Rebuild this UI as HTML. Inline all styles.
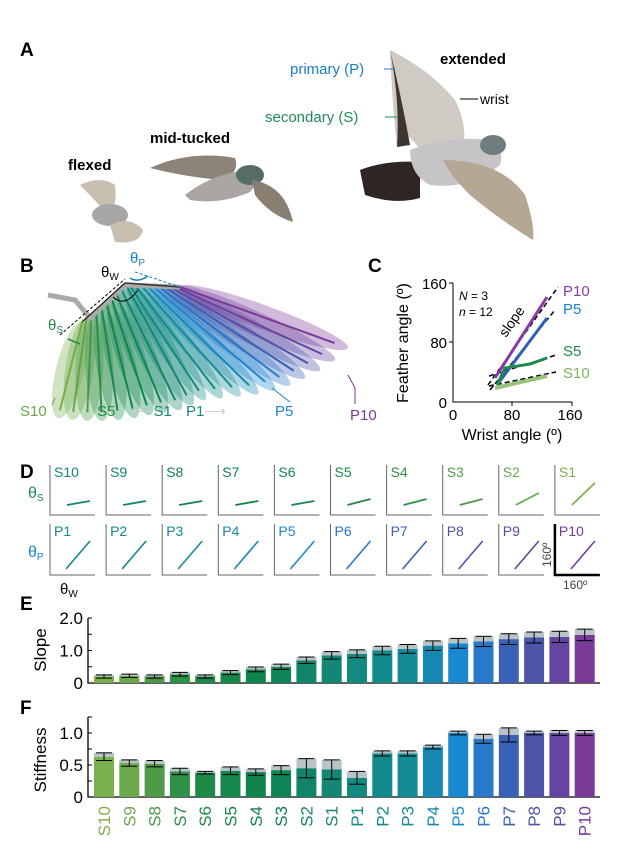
<!DOCTYPE html><html><head><meta charset="utf-8"><style>
body{margin:0;background:#fff;width:622px;height:845px;overflow:hidden;font-family:"Liberation Sans",sans-serif}
svg{display:block}
</style></head><body>
<svg id="s" width="622" height="845" viewBox="0 0 622 845" font-family="Liberation Sans, sans-serif">
<text x="20" y="56" font-size="19" font-weight="bold">A</text>
<text x="20" y="272" font-size="19" font-weight="bold">B</text>
<text x="368" y="272" font-size="19" font-weight="bold">C</text>
<text x="20" y="478" font-size="19" font-weight="bold">D</text>
<text x="20" y="610" font-size="19" font-weight="bold">E</text>
<text x="20" y="714" font-size="19" font-weight="bold">F</text>
<path d="M390,50 Q430,70 455,100 Q468,125 463,150 L420,150 Q400,120 397,147 Q392,100 390,50Z" fill="#cfcac4"/>
<path d="M390,50 Q400,100 397,147 L410,145 Q402,100 390,50Z" fill="#3e3530"/>
<path d="M360,170 Q385,160 420,162 L420,198 Q395,205 365,195Z" fill="#2e2622"/>
<path d="M410,150 Q450,135 490,140 Q505,150 500,165 Q470,190 430,185 Q410,175 410,150Z" fill="#c6c4c6"/>
<ellipse cx="493" cy="145" rx="13" ry="10" fill="#6f7d7e"/>
<path d="M443,160 Q500,160 525,195 Q535,225 533,240 Q500,220 470,195 Q450,175 443,160Z" fill="#b4a794"/>
<path d="M150,168 Q190,150 235,158 Q240,170 225,180 Q190,178 150,168Z" fill="#8e8378"/>
<path d="M185,195 Q210,175 245,170 Q262,180 250,192 Q220,205 190,200Z" fill="#a9a6a4"/>
<ellipse cx="250" cy="175" rx="14" ry="10" fill="#566d66"/>
<path d="M252,180 Q285,185 293,222 Q270,215 255,195Z" fill="#8b7f72"/>
<path d="M80,185 Q100,175 115,185 Q118,205 108,215 Q95,200 80,185Z" fill="#c9bfb0"/>
<ellipse cx="110" cy="215" rx="18" ry="11" fill="#a7a6a8"/>
<path d="M110,225 Q130,215 143,230 Q140,245 115,242Z" fill="#c9bfb0"/>
<text x="68" y="170" font-size="15" font-weight="bold">flexed</text>
<text x="150" y="143" font-size="15" font-weight="bold">mid-tucked</text>
<text x="440" y="64" font-size="15" font-weight="bold">extended</text>
<text x="290" y="74" font-size="15" fill="#1a7fc4">primary (P)</text>
<line x1="384" y1="69" x2="395" y2="69" stroke="#1a7fc4"/>
<text x="265" y="122" font-size="15" fill="#1f8a5a">secondary (S)</text>
<line x1="385" y1="117" x2="398" y2="117" stroke="#1f8a5a"/>
<text x="480" y="104" font-size="14">wrist</text>
<line x1="460" y1="99" x2="478" y2="99" stroke="#000"/>
<g id="wing"></g>
<path d="M48,295 L75,300 L90,318 L125,285 L180,287" stroke="#aaa" stroke-width="5" fill="none"/>
<line x1="60" y1="335" x2="125" y2="279" stroke="#000" stroke-dasharray="3,2"/>
<line x1="82" y1="322" x2="125" y2="283" stroke="#000"/>
<line x1="125" y1="283" x2="180" y2="287" stroke="#333" stroke-width="1.5"/>
<line x1="135" y1="272" x2="180" y2="287" stroke="#1a7fc4" stroke-dasharray="3,2"/>
<path d="M113,297 Q125,308 138,290" stroke="#000" fill="none"/>
<path d="M130,278 Q138,283 148,276" stroke="#1a7fc4" stroke-width="1.5" fill="none"/>
<text x="101" y="277" font-size="15">θ<tspan font-size="10" dy="3">W</tspan></text>
<text x="130" y="263" font-size="15" fill="#1a7fc4">θ<tspan font-size="10" dy="3">P</tspan></text>
<text x="48" y="330" font-size="15" fill="#1f8a4a">θ<tspan font-size="10" dy="3">S</tspan></text>
<line x1="68" y1="339" x2="80" y2="344" stroke="#1f8a4a" stroke-width="1.5"/>
<g font-size="15">
<text x="20" y="416" fill="#6aa84f">S10</text><line x1="52" y1="405" x2="55" y2="398" stroke="#6aa84f"/>
<text x="97" y="416" fill="#1f8a4a">S5</text>
<text x="132" y="416" fill="#128a6a"><tspan fill="#ccc">⟵</tspan>S1</text>
<text x="186" y="416" fill="#128a80">P1<tspan fill="#ccc">⟶</tspan></text>
<text x="275" y="416" fill="#1a86c8">P5</text><line x1="290" y1="402" x2="272" y2="388" stroke="#1a86c8"/>
<text x="350" y="420" fill="#7b3a98">P10</text><polyline points="355,404 355,388 348,375" fill="none" stroke="#7b3a98"/>
</g>
<g font-size="15">
<polyline points="453,283 453,402 572,402" fill="none" stroke="#000"/>
<line x1="449" y1="283" x2="453" y2="283" stroke="#000"/><line x1="449" y1="342" x2="453" y2="342" stroke="#000"/>
<line x1="512" y1="402" x2="512" y2="406" stroke="#000"/><line x1="572" y1="402" x2="572" y2="406" stroke="#000"/>
<text x="447" y="289" text-anchor="end">160</text><text x="447" y="348" text-anchor="end">80</text><text x="447" y="408" text-anchor="end">0</text>
<text x="453" y="420" text-anchor="middle">0</text><text x="512" y="420" text-anchor="middle">80</text><text x="570" y="420" text-anchor="middle">160</text>
<text x="512" y="440" text-anchor="middle" font-size="16">Wrist angle (º)</text>
<text transform="translate(408,343) rotate(-90)" text-anchor="middle" font-size="16">Feather angle (º)</text>
<text x="459" y="300" font-size="12" font-style="italic">N <tspan font-style="normal">= 3</tspan></text>
<text x="459" y="316" font-size="12" font-style="italic">n <tspan font-style="normal">= 12</tspan></text>
<text transform="translate(506,338) rotate(-55)" font-size="14">slope</text>
<line x1="488" y1="385" x2="558" y2="287" stroke="#000" stroke-dasharray="5,3" stroke-width="1.5"/>
<line x1="490" y1="390" x2="555" y2="310" stroke="#000" stroke-dasharray="5,3" stroke-width="1.5"/>
<line x1="489" y1="376" x2="556" y2="355" stroke="#000" stroke-dasharray="5,3" stroke-width="1.5"/>
<line x1="489" y1="386" x2="556" y2="372" stroke="#000" stroke-dasharray="5,3" stroke-width="1.5"/>
<line x1="495" y1="378" x2="547" y2="297" stroke="#8a3aa8" stroke-width="3"/>
<line x1="497" y1="385" x2="547" y2="318" stroke="#2f5fb8" stroke-width="3"/>
<path d="M497,385 L505,368 L530,364 L547,358" stroke="#1f8a4a" stroke-width="3" fill="none"/>
<path d="M495,388 L547,376" stroke="#7cb35a" stroke-width="4" fill="none" opacity=".8"/>
<text x="563" y="296" fill="#8a3aa8">P10</text><text x="563" y="314" fill="#1a86c8">P5</text>
<text x="563" y="356" fill="#1f8a4a">S5</text><text x="563" y="378" fill="#7cb35a">S10</text>
</g>
<g id="d"></g>
<text x="60" y="594" font-size="15">θ<tspan font-size="10" dy="3">W</tspan></text>
<text x="28" y="498" font-size="16" fill="#1f8a5a">θ<tspan font-size="10" dy="3">S</tspan></text>
<text x="28" y="557" font-size="16" fill="#1a86c8">θ<tspan font-size="10" dy="3">P</tspan></text>
<text x="563" y="589" font-size="12" fill="#444">160º</text>
<text transform="translate(551,567) rotate(-90)" font-size="12" fill="#444">160º</text>
<g id="e"></g>
</svg>
<script>
var C=["#7bb04f","#6aa84a","#4f9a48","#2f9048","#1f8a48","#15874a","#0f844c","#0f8456","#12846a","#138674","#128a80","#138a8a","#148b96","#1688b0","#1a88d0","#2a78c8","#3a62b4","#4e54a8","#6545a2","#7a3a98"];
var N=["S10","S9","S8","S7","S6","S5","S4","S3","S2","S1","P1","P2","P3","P4","P5","P6","P7","P8","P9","P10"];
var ns="http://www.w3.org/2000/svg";
function el(p,t,a,txt){var e=document.createElementNS(ns,t);for(var k in a)e.setAttribute(k,a[k]);if(txt!=null)e.textContent=txt;p.appendChild(e);return e;}
var w=document.getElementById("wing");
var tips=[[58,418],[72,420],[87,421],[102,421],[119,420],[135,418],[150,415],[165,412],[180,410],[192,405],[205,400],[222,398],[240,396],[258,394],[275,390],[290,385],[305,378],[320,370],[335,360],[348,348]];
for(var i=0;i<20;i++){var bx,by;
if(i<10){var t=i/9;bx=82+43*t;by=322-39*t;}else{var t=(i-10)/9;bx=128+52*t;by=283+4*t;}
var tx=tips[i][0],ty=tips[i][1];var cx=(bx+tx)/2,cy=(by+ty)/2;var L=Math.hypot(tx-bx,ty-by)/2;var a=Math.atan2(ty-by,tx-bx)*180/Math.PI;
el(w,"ellipse",{cx:cx,cy:cy,rx:L,ry:i<10?14:12,transform:"rotate("+a+" "+cx+" "+cy+")",fill:C[i],opacity:.35});
el(w,"line",{x1:bx,y1:by,x2:tx-(tx-bx)*.08,y2:ty-(ty-by)*.08,stroke:C[i],"stroke-width":2});}
var d=document.getElementById("d");
var sN=["S10","S9","S8","S7","S6","S5","S4","S3","S2","S1"];
for(var i=0;i<10;i++){var x=50+56.1*i;
[[515,465,9-i,sN[i],0],[575,524,10+i,"P"+(i+1),1]].forEach(function(r){var yb=r[0],yt=r[1],c=C[r[2]];var big=(i==9&&r[4]);
el(d,"polyline",{points:x+","+yt+" "+x+","+yb+" "+(x+45)+","+yb,fill:"none",stroke:big?"#000":"#666","stroke-width":big?2.5:1});
el(d,"text",{x:x+4,y:yt+12,"font-size":14,fill:c},r[3]);
if(r[4]){el(d,"line",{x1:x+16,y1:yb-6,x2:x+40,y2:yb-34,stroke:c,"stroke-width":1.6});}
else{var sl=i<5?4:(i<8?6:(i==8?12:22));el(d,"line",{x1:x+17,y1:yb-10,x2:x+40,y2:yb-10-sl,stroke:c,"stroke-width":1.8});}
});}
var e=document.getElementById("e");
var sl=[.2,.22,.2,.27,.2,.32,.42,.5,.7,.85,.9,1.0,1.05,1.15,1.22,1.28,1.35,1.4,1.42,1.48];
var st=[.63,.53,.52,.4,.38,.41,.39,.42,.45,.43,.3,.68,.68,.78,1.0,.91,.97,1.0,1.0,1.0];
var se=[.06,.05,.05,.05,.02,.06,.05,.07,.15,.15,.1,.04,.04,.03,.03,.07,.11,.03,.04,.04];
function ax(y0,h,max,ticks,lab,ly,top){el(e,"polyline",{points:"88,"+top+" 88,"+y0+" 600,"+y0,fill:"none",stroke:"#000","stroke-width":1.3});
ticks.forEach(function(t){var y=y0-t[0]/max*h;el(e,"line",{x1:88,y1:y,x2:92,y2:y,stroke:"#000"});if(t[1])el(e,"text",{x:83,y:y+6,"font-size":17,"text-anchor":"end"},t[1]);});
el(e,"text",{transform:"translate(46,"+ly+") rotate(-90)","font-size":17,"text-anchor":"middle"},lab);}
ax(683,65,2,[[0,"0"],[.5,""],[1,"1.0"],[1.5,""],[2,"2.0"]],"Slope",650,618);
ax(797,64,1,[[0,"0"],[.25,""],[.5,"0.5"],[.75,""],[1,"1.0"],[1.25,""]],"Stiffness",760,717);
for(var i=0;i<20;i++){var x=94+25.3*i;
[[683,65,2,sl[i],sl[i]*0.1+.03],[797,64,1,st[i],se[i]]].forEach(function(r){var y=r[0]-r[3]/r[2]*r[1];var er=r[4]/r[2]*r[1];
el(e,"rect",{x:x,y:y,width:20,height:r[0]-y,fill:C[i]});
el(e,"rect",{x:x,y:y-er,width:20,height:er,fill:"#b8c4c8"});
el(e,"line",{x1:x+10,y1:y-er,x2:x+10,y2:y+er,stroke:"#000"});
el(e,"line",{x1:x+2,y1:y-er,x2:x+18,y2:y-er,stroke:"#000"});el(e,"line",{x1:x+2,y1:y+er,x2:x+18,y2:y+er,stroke:"#000"});});
el(e,"text",{transform:"translate("+(x+16)+",806) rotate(-90)","font-size":17,"text-anchor":"end",fill:C[i]},N[i]);}
</script>
</body></html>
